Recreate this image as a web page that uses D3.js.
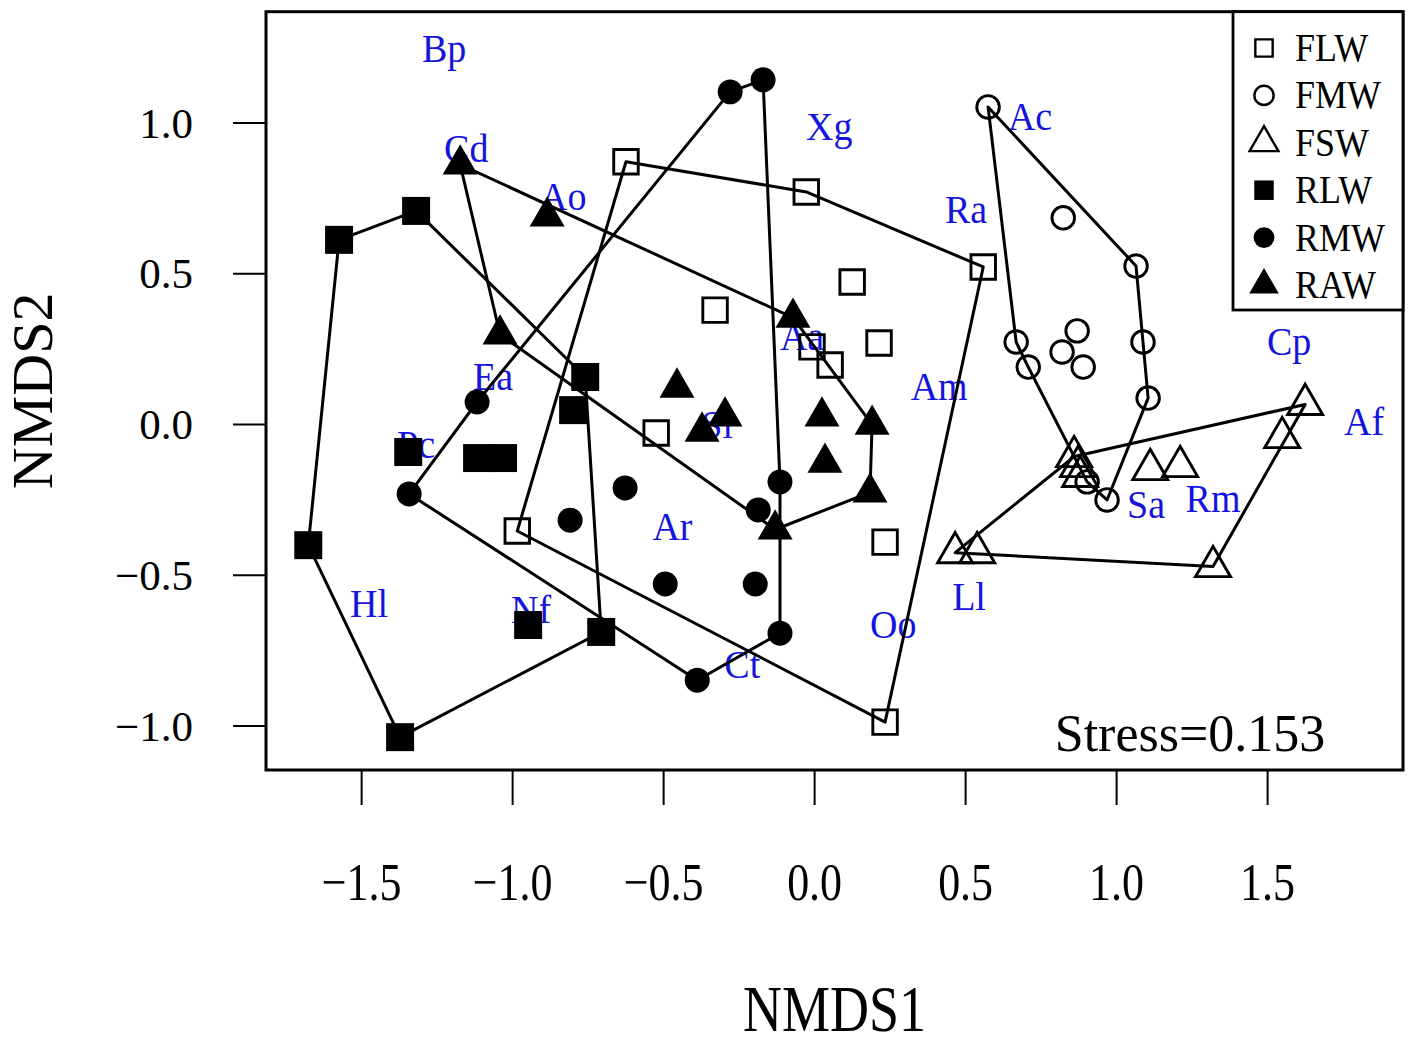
<!DOCTYPE html>
<html>
<head>
<meta charset="utf-8">
<script src="https://cdn.jsdelivr.net/npm/d3@7"></script>
<style>
  body { margin: 0; background: #fff; }
  svg text { font-family: "Liberation Serif", "Times New Roman", serif; }
</style>
</head>
<body>
<div id="container"></div>
<script>
// NMDS site scores [NMDS1, NMDS2], one array per group
let FLW = [[-0.623, 0.870], [-0.026, 0.770], [0.560, 0.521], [0.126, 0.471], [-0.328, 0.378], [0.215, 0.269],
           [-0.007, 0.256], [0.053, 0.196], [-0.523, -0.030], [-0.983, -0.355], [0.235, -0.392], [0.235, -0.989]];
let FMW = [[0.576, 1.052], [0.825, 0.684], [1.066, 0.524], [0.669, 0.272], [0.709, 0.189], [0.871, 0.309],
           [0.821, 0.239], [0.891, 0.189], [1.089, 0.272], [1.106, 0.086], [0.904, -0.192], [0.970, -0.252]];
let FSW = [[1.626, 0.065], [1.550, -0.045], [0.861, -0.108], [0.874, -0.141], [0.881, -0.174], [1.113, -0.151],
           [1.212, -0.141], [1.321, -0.473], [0.467, -0.427], [0.540, -0.427]];
let RLW = [[-1.573, 0.611], [-1.318, 0.707], [-0.758, 0.156], [-0.798, 0.046], [-1.344, -0.093], [-1.116, -0.113],
           [-1.030, -0.113], [-1.675, -0.402], [-0.947, -0.667], [-0.705, -0.690], [-1.371, -1.039]];
let RMW = [[-0.278, 1.102], [-0.169, 1.142], [-1.116, 0.073], [-1.341, -0.232], [-0.626, -0.212], [-0.808, -0.319],
           [-0.113, -0.192], [-0.185, -0.285], [-0.493, -0.531], [-0.195, -0.531], [-0.113, -0.694], [-0.387, -0.850]];
let RAW = [[-1.172, 0.861], [-0.884, 0.689], [-1.040, 0.297], [-0.070, 0.353], [-0.454, 0.121], [-0.371, -0.025],
           [-0.295, 0.025], [0.026, 0.025], [0.192, -0.002], [0.036, -0.128], [0.185, -0.227], [-0.129, -0.350]];

let groupNames = ["FLW", "FMW", "FSW", "RLW", "RMW", "RAW"];
let groupData = [FLW, FMW, FSW, RLW, RMW, RAW];

// species scores
let speciesNames = ["Bp", "Cd", "Ao", "Xg", "Ra", "Ac", "Ea", "Pc", "Aa", "Am", "Sl",
                    "Ar", "Cp", "Af", "Sa", "Rm", "Ll", "Oo", "Ct", "Hl", "Nf"];
let speciesX = [-1.225, -1.152, -0.831, 0.050, 0.503, 0.715, -1.063, -1.318, -0.040, 0.414, -0.321,
                -0.469, 1.573, 1.821, 1.099, 1.321, 0.513, 0.262, -0.238, -1.474, -0.937];
let speciesY = [1.246, 0.914, 0.755, 0.987, 0.712, 1.020, 0.158, -0.068, 0.290, 0.124, -0.002,
                -0.340, 0.274, 0.008, -0.267, -0.247, -0.573, -0.665, -0.798, -0.596, -0.616];

let tickValues = [-1.5, -1.0, -0.5, 0.0, 0.5, 1.0, 1.5];
let yTickValues = [-1.0, -0.5, 0.0, 0.5, 1.0];
let stressText = "Stress=0.153";

// layout
let chart_width = 1408;
let chart_height = 1045;
let plot = {left: 266, right: 1403, top: 11.7, bottom: 770};

let svg = d3.select("#container")
  .append("svg")
  .attr("width", chart_width)
  .attr("height", chart_height);

let x = d3.scaleLinear().domain([-1.815, 1.950]).range([plot.left, plot.right]);
let y = d3.scaleLinear().domain([-1.148, 1.368]).range([plot.bottom, plot.top]);

let shapes = [d3.symbolSquare, d3.symbolCircle, d3.symbolTriangle, d3.symbolSquare, d3.symbolCircle, d3.symbolTriangle];
let filled = [false, false, false, true, true, true];
let sizes = [600, 400, 530, 784, 490, 530];
let legendSizes = [300, 290, 360, 380, 340, 380];

// species labels (drawn first, points sit on top)
svg.append("g")
  .selectAll("text")
  .data(speciesNames)
  .enter()
  .append("text")
  .attr("transform", (d, i) => "translate(" + x(speciesX[i]) + "," + (y(speciesY[i]) + 13.5) + ") scale(1,1.08)")
  .attr("text-anchor", "middle")
  .style("font-size", "38px")
  .attr("fill", "#1414dc")
  .text(d => d);

// hulls
let line = d3.line().x(d => x(d[0])).y(d => y(d[1])).curve(d3.curveLinearClosed);
svg.append("g")
  .selectAll("path")
  .data(groupData)
  .enter()
  .append("path")
  .attr("d", d => line(d3.polygonHull(d)))
  .attr("fill", "none")
  .attr("stroke", "#000")
  .attr("stroke-width", 3)
  .attr("stroke-linejoin", "round");

// points
groupData.forEach(function(pts, gi){
  svg.append("g")
    .selectAll("path")
    .data(pts)
    .enter()
    .append("path")
    .attr("transform", d => "translate(" + x(d[0]) + "," + y(d[1]) + ")")
    .attr("d", d3.symbol().type(shapes[gi]).size(sizes[gi]))
    .attr("fill", filled[gi] ? "#000" : "none")
    .attr("stroke", filled[gi] ? "none" : "#000")
    .attr("stroke-width", 2.9);
});

// frame
svg.append("rect")
  .attr("x", plot.left)
  .attr("y", plot.top)
  .attr("width", plot.right - plot.left)
  .attr("height", plot.bottom - plot.top)
  .attr("fill", "none")
  .attr("stroke", "#000")
  .attr("stroke-width", 3);

// axes
let fmt = d3.format(".1f");
let xAxis = svg.append("g")
  .attr("transform", "translate(0," + plot.bottom + ")")
  .call(d3.axisBottom(x).tickValues(tickValues).tickSize(35).tickFormat(fmt));
xAxis.select(".domain").remove();
xAxis.selectAll("line").attr("stroke", "#000").attr("stroke-width", 2);
xAxis.selectAll("text")
  .attr("y", 0).attr("dy", 0)
  .attr("transform", "translate(0,130) scale(1,1.2)")
  .attr("fill", "#000")
  .style("font-size", "44px")
  .style("font-family", "'Liberation Serif', 'Times New Roman', serif");

let yAxis = svg.append("g")
  .attr("transform", "translate(" + plot.left + ",0)")
  .call(d3.axisLeft(y).tickValues(yTickValues).tickSize(33).tickFormat(fmt));
yAxis.select(".domain").remove();
yAxis.selectAll("line").attr("stroke", "#000").attr("stroke-width", 2);
yAxis.selectAll("text")
  .attr("x", -73).attr("dy", "0.34em")
  .attr("fill", "#000")
  .style("font-size", "43px")
  .style("font-family", "'Liberation Serif', 'Times New Roman', serif");

// axis titles
svg.append("text")
  .attr("transform", "translate(" + ((plot.left + plot.right) / 2) + ",1031) scale(1,1.2)")
  .attr("text-anchor", "middle")
  .style("font-size", "54px")
  .text("NMDS1");

svg.append("text")
  .attr("transform", "translate(52," + ((plot.top + plot.bottom) / 2) + ") rotate(-90)")
  .attr("text-anchor", "middle")
  .style("font-size", "58px")
  .text("NMDS2");

// stress
svg.append("text")
  .attr("x", 1190)
  .attr("y", 751)
  .attr("text-anchor", "middle")
  .style("font-size", "52px")
  .text(stressText);

// legend
let legend = svg.append("g").attr("id", "legend");
legend.append("rect")
  .attr("x", 1233)
  .attr("y", plot.top)
  .attr("width", plot.right - 1233)
  .attr("height", 310 - plot.top)
  .attr("fill", "#fff")
  .attr("stroke", "#000")
  .attr("stroke-width", 2.8);

let legendY = d3.scalePoint().domain(groupNames).range([48, 285]);
groupNames.forEach(function(name, gi){
  legend.append("path")
    .attr("transform", "translate(1264," + legendY(name) + ")")
    .attr("d", d3.symbol().type(shapes[gi]).size(legendSizes[gi]))
    .attr("fill", filled[gi] ? "#000" : "none")
    .attr("stroke", filled[gi] ? "none" : "#000")
    .attr("stroke-width", 2.4);
  legend.append("text")
    .attr("transform", "translate(1295," + (legendY(name) + 13) + ") scale(1,1.12)")
    .style("font-size", "36px")
    .text(name);
});
</script>
</body>
</html>
